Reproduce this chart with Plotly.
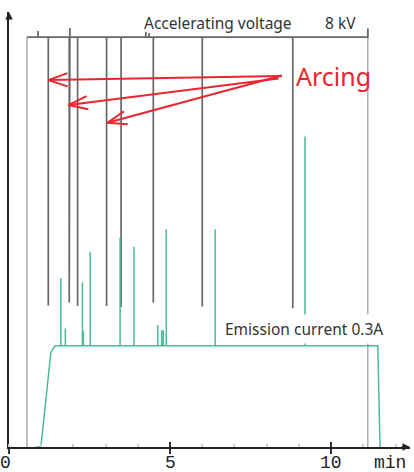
import math
import plotly.graph_objects as go

# ---------------- data ----------------
# accelerating voltage trace (kV)
v_on_t = 0.56          # min, voltage switched on
v_off_t = 11.14        # min, voltage switched off
v_level = 8.0          # kV
v_end_peak = 8.17
arc_t = [1.22, 1.87, 2.13, 3.03, 3.48, 4.48, 6.00, 8.81]
arc_v = [2.76, 2.82, 2.75, 2.75, 2.73, 2.82, 2.74, 2.71]
glitch_t = [0.90, 1.89, 4.25, 4.35]
glitch_v = [8.12, 8.18, 8.10, 8.08]

# emission current trace (A)
ramp_t = [0.85, 0.99, 1.30, 1.43]
ramp_i = [0.0, 0.0, 0.28, 0.30]
i_level = 0.30
i_off_t = [11.45, 11.52]
i_off_i = [0.30, 0.0]
spike_t = [1.61, 1.75, 2.28, 2.31, 2.52, 3.45, 3.88, 4.62, 4.74, 4.79, 4.88, 6.40, 9.19]
spike_i = [0.500, 0.351, 0.487, 0.344, 0.578, 0.620, 0.593, 0.361, 0.346, 0.346, 0.645, 0.645, 0.919]

x_ticks = [0, 5, 10]
x_tick_text = ["0", "5", "10"]
x_unit_pos = 11.83
x_unit_text = "min"

# ---------------- build traces ----------------
events = [(t, v) for t, v in zip(arc_t, arc_v)] + [(t, v) for t, v in zip(glitch_t, glitch_v)]
events.sort()
vx, vy = [v_on_t], [v_level]
for t, v in events:
    vx += [t, t, t]
    vy += [v_level, v, v_level]
vx += [v_off_t, v_off_t]
vy += [v_level, v_end_peak]

trans_x = [v_on_t, v_on_t, None, v_off_t, v_off_t]
trans_y = [0, v_level, None, v_end_peak, 0]

ix, iy = list(ramp_t), list(ramp_i)
for t, p in zip(spike_t, spike_i):
    ix += [t, t, t]
    iy += [i_level, p, i_level]
ix += i_off_t
iy += i_off_i

X_MAX = 12.45
Y_MAX = 8.49
Y2_MAX = 1.288

fig = go.Figure()
fig.add_trace(go.Scatter(x=trans_x, y=trans_y, mode="lines",
                         line=dict(color="#a0a0a0", width=1.3), hoverinfo="skip"))
fig.add_trace(go.Scatter(x=vx, y=vy, mode="lines",
                         line=dict(color="#686868", width=1.7), hoverinfo="skip"))
fig.add_trace(go.Scatter(x=ix, y=iy, mode="lines", yaxis="y2",
                         line=dict(color="#4dbb91", width=1.5), hoverinfo="skip"))

# ---------------- annotations ----------------
red = "#ea2530"
txt_font = dict(family="Noto Sans", size=15.5, color="#333")
tick_font = dict(family="Liberation Mono", size=18, color="#222")
ann = []
ann.append(dict(x=6.475, y=8.27, text="Accelerating voltage", showarrow=False, font=txt_font))
ann.append(dict(x=10.28, y=8.27, text="8 kV", showarrow=False, font=txt_font))
ann.append(dict(x=9.16, y=2.30, text="Emission current 0.3A", showarrow=False,
                bgcolor="white", borderpad=3, font=txt_font))
ann.append(dict(x=10.08, y=7.24, text="Arcing", showarrow=False,
                font=dict(family="Noto Sans", size=25, color=red)))

# arrows: head (data coords) and tail offset (pixels)
arrows = [((1.220, 7.161), (235.0, -4.0)),
          ((1.842, 6.673), (211.7, -26.7)),
          ((3.053, 6.328), (176.0, -47.7))]
for (hx, hy), (ax, ay) in arrows:
    ann.append(dict(x=hx, y=hy, ax=ax, ay=ay, text="", showarrow=True,
                    arrowhead=0, arrowwidth=2, arrowcolor=red, standoff=0))
    L = math.hypot(ax, ay)
    ux, uy = ax / L, ay / L
    for s in (1, -1):
        a = math.radians(19) * s
        wx = (ux * math.cos(a) - uy * math.sin(a)) * 22
        wy = (ux * math.sin(a) + uy * math.cos(a)) * 22
        ann.append(dict(x=hx, y=hy, ax=wx, ay=wy, text="", showarrow=True,
                        arrowhead=0, arrowwidth=2, arrowcolor=red, standoff=0))

# axis arrowheads
ann.append(dict(x=X_MAX, y=0, ax=-10, ay=0, text="", showarrow=True,
                arrowhead=2, arrowsize=1, arrowwidth=1.5, arrowcolor="#222"))
ann.append(dict(x=0, y=Y_MAX, ax=0, ay=8, text="", showarrow=True,
                arrowhead=2, arrowsize=1, arrowwidth=1.5, arrowcolor="#222"))

# tick labels and unit
for k, (tv, tt) in enumerate(zip(x_ticks + [x_unit_pos], x_tick_text + [x_unit_text])):
    ann.append(dict(x=tv, y=0, yref="paper", text=tt, showarrow=False,
                    xanchor="center", yanchor="middle", yshift=-16,
                    xshift=-4 if k == 0 else 0,
                    height=18, borderpad=0, font=tick_font))

fig.update_layout(
    width=414, height=472,
    margin=dict(l=9, r=4, t=12, b=25, autoexpand=False),
    paper_bgcolor="white", plot_bgcolor="white",
    showlegend=False,
    xaxis=dict(range=[0, X_MAX], showgrid=False, zeroline=False, automargin=False,
               showline=True, linecolor="#222", linewidth=1.5,
               tickvals=x_ticks, showticklabels=False,
               ticks="outside", ticklen=5, tickwidth=1.5, tickcolor="#333",
               minor=dict(dtick=1, ticks="inside", ticklen=3, tickcolor="#cccccc")),
    xaxis2=dict(range=[0, X_MAX], overlaying="x", anchor="y", automargin=False,
                showgrid=False, zeroline=False, showticklabels=False,
                tickvals=x_ticks, ticks="inside", ticklen=5, tickwidth=1.5,
                tickcolor="#333"),
    yaxis=dict(range=[0, Y_MAX], showgrid=False, zeroline=False, automargin=False,
               showline=True, linecolor="#222", linewidth=2,
               showticklabels=False, ticks=""),
    yaxis2=dict(range=[0, Y2_MAX], overlaying="y", visible=False, automargin=False),
    annotations=ann,
)
fig.add_trace(go.Scatter(x=[None], y=[None], xaxis="x2", hoverinfo="skip"))

fig.write_html("out.html", config={"displayModeBar": False},
               post_script="document.body.style.margin='0';")
